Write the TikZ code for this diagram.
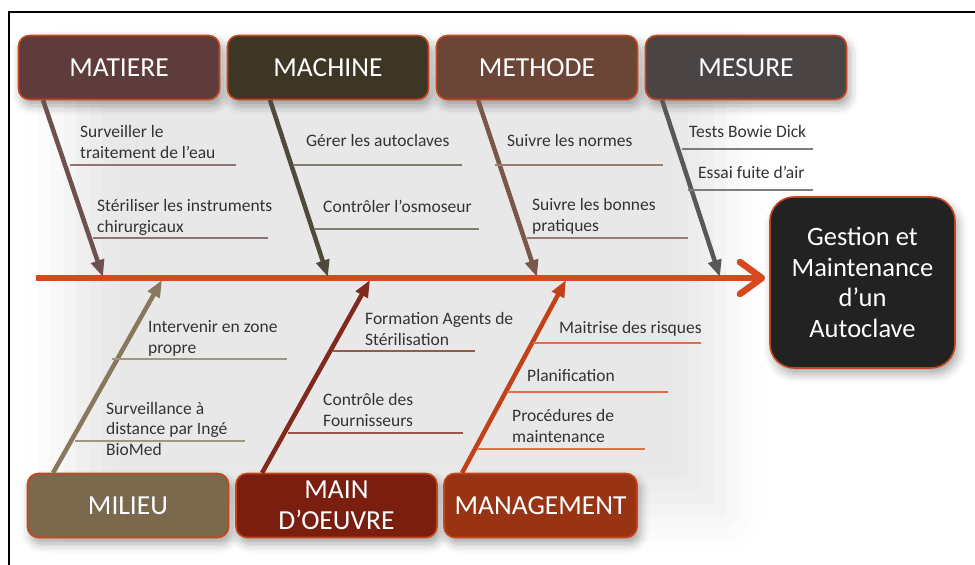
\documentclass[tikz,border=0pt]{standalone}
\usepackage{fontspec}
\setmainfont{Carlito}
\usetikzlibrary{arrows.meta,shadows.blur}

\definecolor{boxedge}{HTML}{C4461C}
\definecolor{spinecol}{HTML}{D9481C}
\definecolor{txtcol}{HTML}{333333}
\definecolor{matcol}{HTML}{5F3C3C}
\definecolor{maccol}{HTML}{3D3625}
\definecolor{metcol}{HTML}{6B4535}
\definecolor{mescol}{HTML}{4A4444}
\definecolor{milcol}{HTML}{7A694C}
\definecolor{moecol}{HTML}{7A1E10}
\definecolor{mancol}{HTML}{983314}
\definecolor{effcol}{HTML}{222222}

\begin{document}
\begin{tikzpicture}[x=1pt,y=-1pt,
  box/.style={rectangle, draw=boxedge, line width=1.6pt, rounded corners=11pt,
    minimum width=201pt, minimum height=64pt, text=white, align=center,
    font=\fontsize{27.5}{31}\selectfont,
    blur shadow={shadow xshift=3pt, shadow yshift=-6pt, shadow blur radius=9pt, shadow opacity=35}},
  bone/.style={line width=4.5pt, -{Triangle[width=13pt,length=17pt]}},
  twig/.style={line width=1.4pt},
  cause/.style={anchor=base west, inner sep=0pt, align=left, text=txtcol,
    font=\fontsize{17.5}{20.5}\selectfont},
  spine/.style={draw=spinecol, line width=6.5pt, -{Straight Barb[length=22pt,width=32pt,round]}}
]
\useasboundingbox (0,0) rectangle (975,565);

% soft background haze
\path[blur shadow={shadow xshift=0pt, shadow yshift=0pt, shadow blur radius=45pt, shadow opacity=9}]
  (70,70) rectangle (720,510);

% frame
\draw[line width=2pt] (975,12) -- (9,12) -- (9,565);

% effect
\node[box, fill=effcol, minimum width=185pt, minimum height=171pt, rounded corners=24pt,
  font=\fontsize{26.5}{30.5}\selectfont] (effet) at (862.5,282.5)
  {Gestion et\\Maintenance\\d’un\\Autoclave};

% causes, top row
\node[box, fill=matcol] (matiere) at (119,67.5) {MATIERE};
\node[box, fill=maccol] (machine) at (328,67.5) {MACHINE};
\node[box, fill=metcol] (methode) at (537,67.5) {METHODE};
\node[box, fill=mescol] (mesure) at (746,67.5) {MESURE};

% causes, bottom row
\node[box, fill=milcol] (milieu) at (128,505.5) {MILIEU};
\node[box, fill=moecol] (oeuvre) at (336.5,505.5) {MAIN\\D’OEUVRE};
\node[box, fill=mancol, minimum width=193pt] (management) at (540.5,505.5) {MANAGEMENT};

% spine
\coordinate (queue) at (36,278);
\draw[spine, shorten >=4pt] (queue) -- (effet.west |- queue);

% points on the spine
\coordinate (hmat) at (103,277);
\coordinate (hmac) at (328,277);
\coordinate (hmet) at (537,277);
\coordinate (hmes) at (720,277);
\coordinate (hmil) at (162,280);
\coordinate (hmoe) at (370,280);
\coordinate (hman) at (566,280);

% bones
\draw[bone, draw=matcol!90!white] (43,100) -- (hmat);
\draw[bone, draw=maccol!90!white] (270,100) -- (hmac);
\draw[bone, draw=metcol!90!white] (478,100) -- (hmet);
\draw[bone, draw=mescol!90!white] (662,100) -- (hmes);
\draw[bone, draw=milcol!90!white] (53,473) -- (hmil);
\draw[bone, draw=moecol!95!white] (262,473) -- (hmoe);
\draw[bone, draw=spinecol!90!black] (462,473) -- (hman);

% sub-causes
\draw[twig, draw=matcol!70!white] (70,165) -- (236,165);
\draw[twig, draw=matcol!70!white] (93,238) -- (268,238);
\draw[twig, draw=maccol!65!white] (293,165) -- (462,165);
\draw[twig, draw=maccol!65!white] (315,229) -- (479,229);
\draw[twig, draw=metcol!70!white] (495,165) -- (663,165);
\draw[twig, draw=metcol!70!white] (527,238) -- (688,238);
\draw[twig, draw=mescol!70!white] (682,149) -- (813,149);
\draw[twig, draw=mescol!70!white] (688,190) -- (813,190);
\draw[twig, draw=milcol!70!white] (112,359) -- (287,359);
\draw[twig, draw=milcol!70!white] (75,441) -- (245,441);
\draw[twig, draw=moecol!75!white] (333,351) -- (475,351);
\draw[twig, draw=moecol!75!white] (288,433) -- (463,433);
\draw[twig, draw=spinecol!80!white] (533,343) -- (701,343);
\draw[twig, draw=spinecol!80!white] (507,392) -- (668,392);
\draw[twig, draw=spinecol!80!white] (477,449) -- (645,449);

% base = last line
\node[cause] (mat1) at (80,158) {Surveiller le\\traitement de l’eau};
\node[cause] (mat2) at (97,232) {Stériliser les instruments\\chirurgicaux};
\node[cause] (mac1) at (306,146) {Gérer les autoclaves};
\node[cause] (mac2) at (323,212) {Contrôler l’osmoseur};
\node[cause] (met1) at (507,146) {Suivre les normes};
\node[cause] (met2) at (532,231) {Suivre les bonnes\\pratiques};
\node[cause] (mes1) at (689,137) {Tests Bowie Dick};
\node[cause] (mes2) at (698,178) {Essai fuite d’air};
\node[cause] (mil1) at (148,353) {Intervenir en zone\\propre};
\node[cause] (mil2) at (106,455) {Surveillance à\\distance par Ingé\\BioMed};
\node[cause] (moe1) at (365,345) {Formation Agents de\\Stérilisation};
\node[cause] (moe2) at (323,426) {Contrôle des\\Fournisseurs};
\node[cause] (man1) at (559,333) {Maitrise des risques};
\node[cause] (man2) at (527,381) {Planification};
\node[cause] (man3) at (512,442) {Procédures de\\maintenance};
\end{tikzpicture}
\end{document}
